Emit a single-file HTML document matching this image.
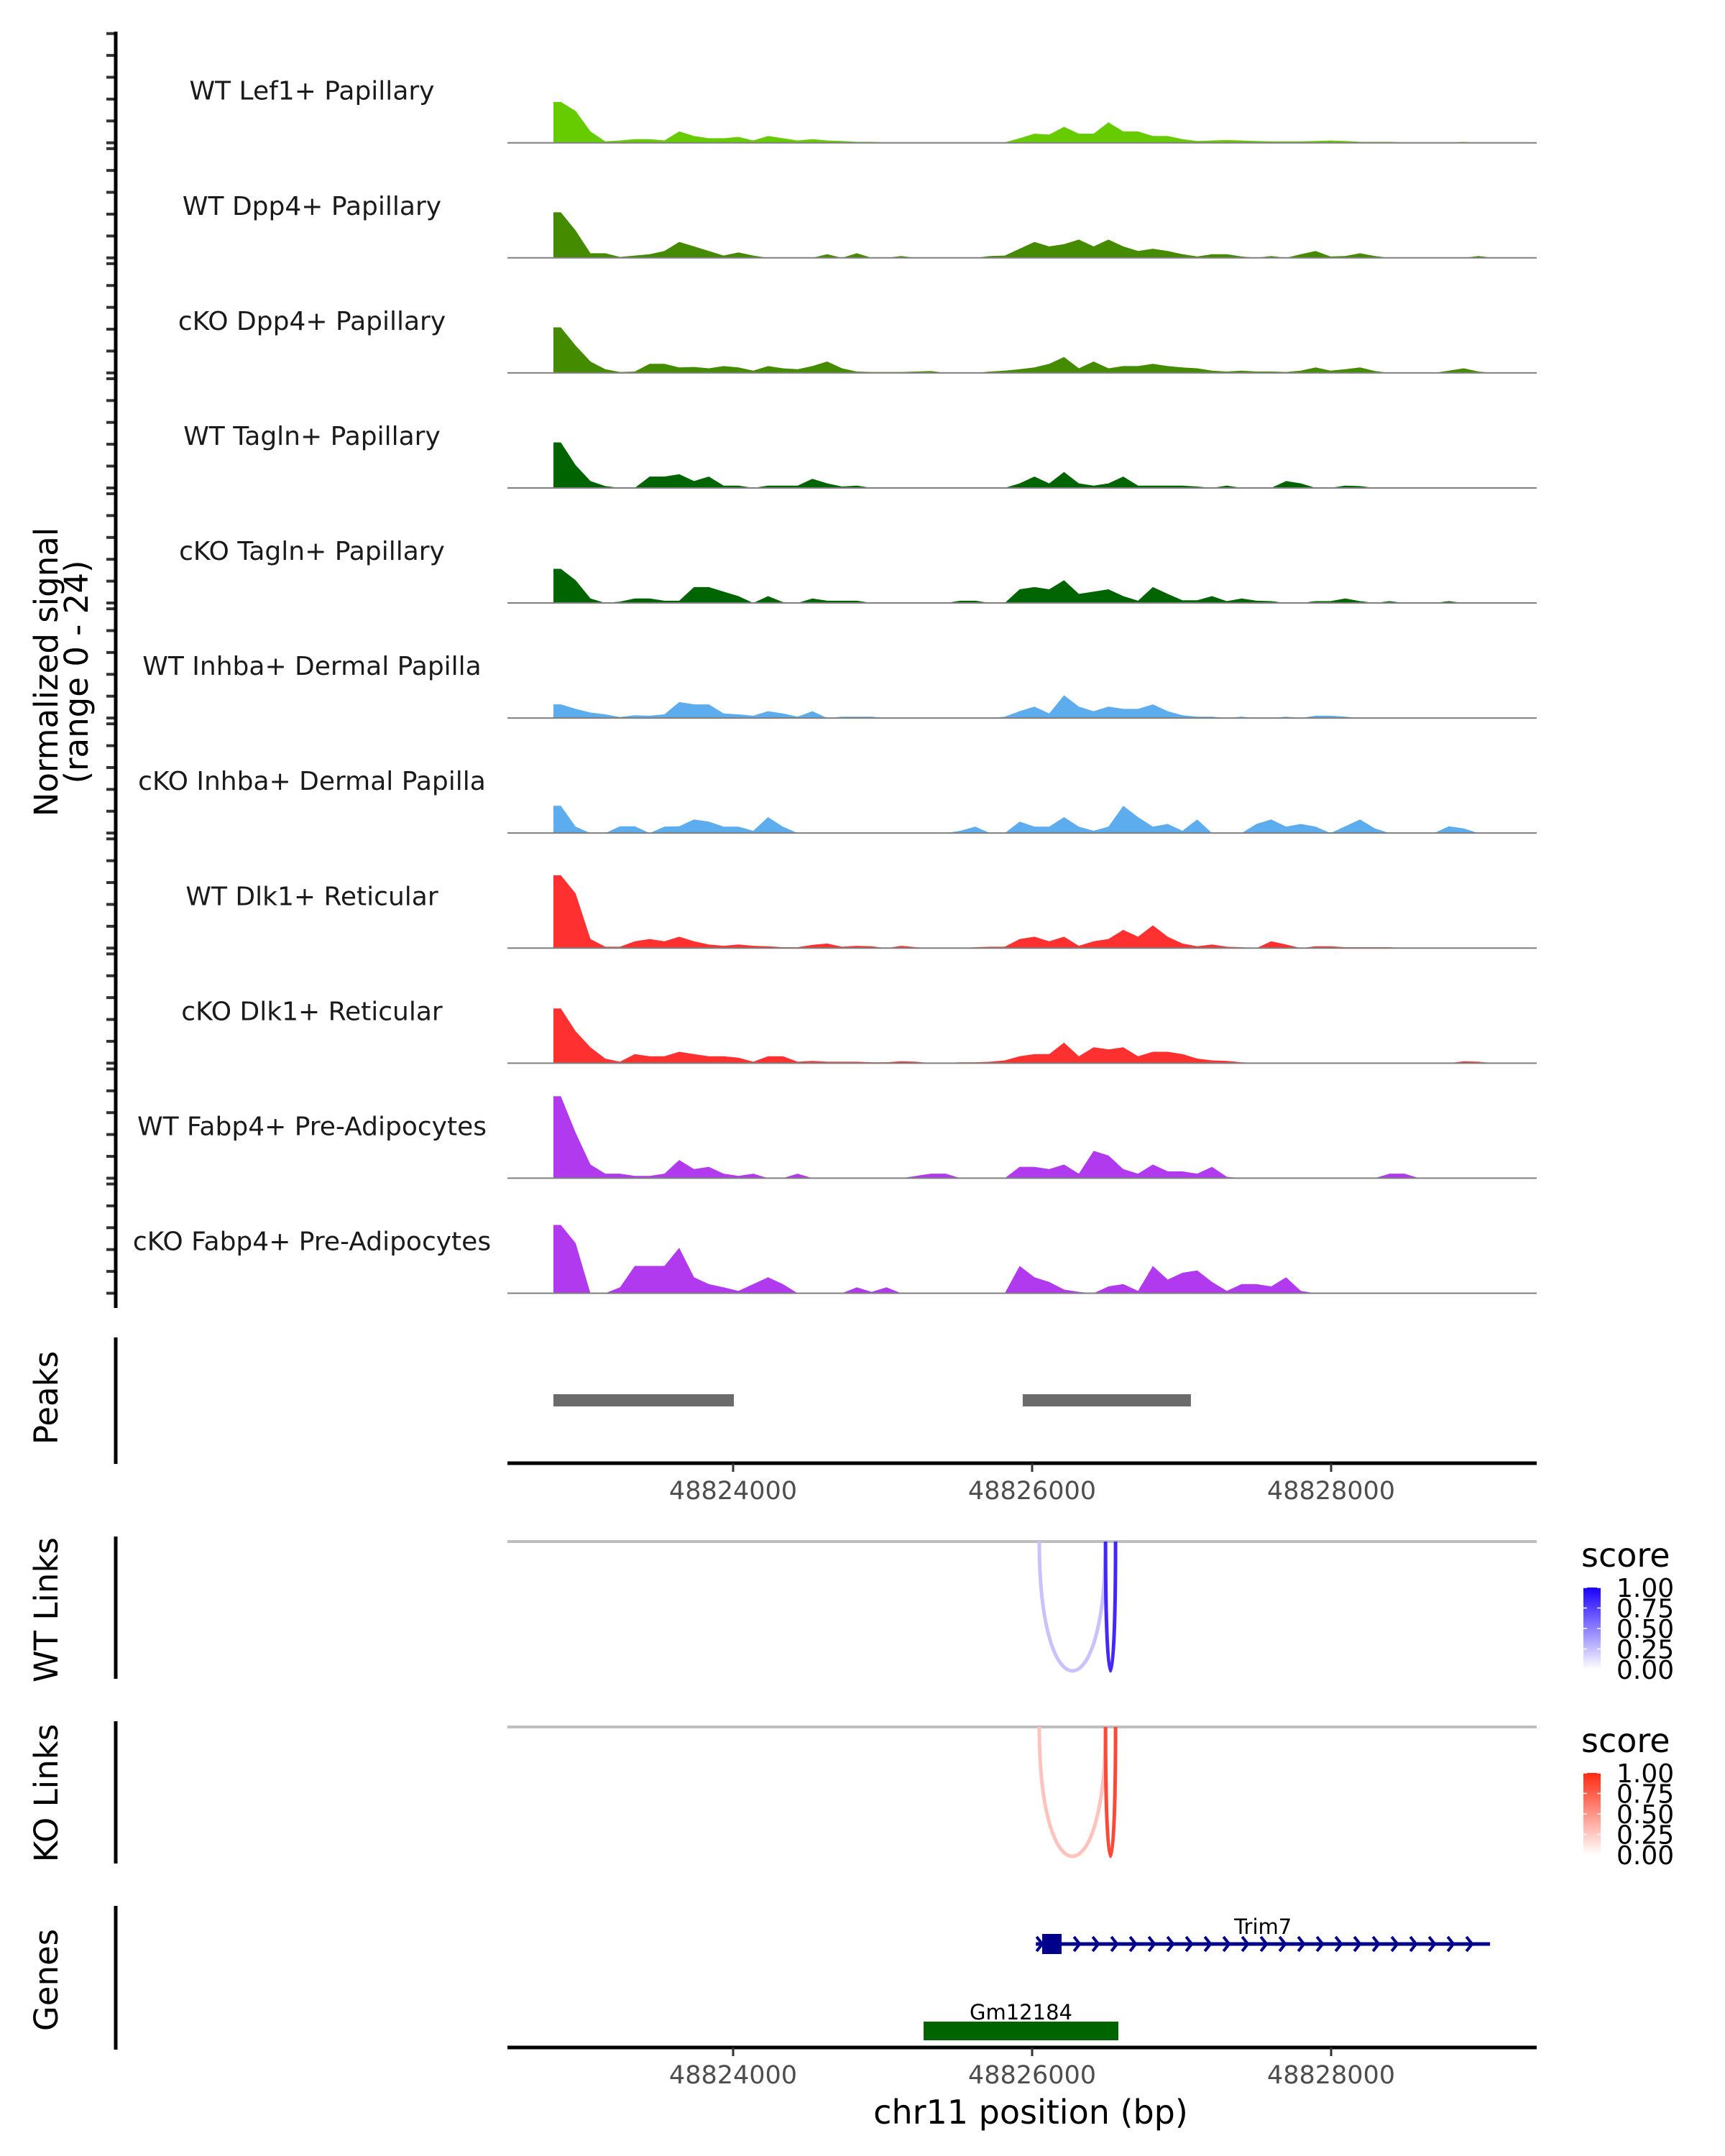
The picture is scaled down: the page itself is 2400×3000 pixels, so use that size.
<!DOCTYPE html>
<html><head><meta charset="utf-8">
<style>
html,body{margin:0;padding:0;background:#fff;}
svg{display:block;font-family:"DejaVu Sans","Liberation Sans",sans-serif;}
</style></head>
<body>
<svg id="chart" width="2400" height="3000" viewBox="0 0 2400 3000" xmlns="http://www.w3.org/2000/svg"></svg>
<script>
// ---- data ----
const trackNames = ["WT Lef1+ Papillary","WT Dpp4+ Papillary","cKO Dpp4+ Papillary","WT Tagln+ Papillary","cKO Tagln+ Papillary","WT Inhba+ Dermal Papilla","cKO Inhba+ Dermal Papilla","WT Dlk1+ Reticular","cKO Dlk1+ Reticular","WT Fabp4+ Pre-Adipocytes","cKO Fabp4+ Pre-Adipocytes"];
const trackColors = ["#66CC00","#458B00","#458B00","#006400","#006400","#5CACEE","#5CACEE","#FF3030","#FF3030","#B23AEE","#B23AEE"];
const binStart = 48822798;
const binSize = 99;
const sigLef1WT = [9,7,2.5,0.3,0.5,0.8,0.8,0.5,2.5,1.5,1,1,1.3,0.5,1.5,1,0.5,0.8,0.5,0.4,0.2,0.2,0.1,0.1,0.1,0.1,0.1,0.1,0.1,0.1,0.1,1,2,1.8,3.5,2,2,4.5,2.5,2.5,1.5,1.5,0.8,0.4,0.5,0.6,0.5,0.4,0.3,0.3,0.3,0.4,0.5,0.4,0.2,0.2,0.2,0.1,0.1,0.1,0.1,0.2,0,0];
const sigDpp4WT = [10,6,1,1,0.2,0.5,0.8,1.5,3.5,2.5,1.5,0.5,1.2,0.5,0,0,0,0,0.8,0,1,0,0,0.4,0,0,0,0,0,0.4,0.5,2,3.5,2.5,3,4,2.5,4,2.5,1.5,2,1.5,0.8,0.3,0.8,0.8,0.3,0,0.4,0,0.8,1.5,0.3,0.4,1,0.4,0,0,0,0,0,0,0.4,0];
const sigDpp4KO = [10,6,2.5,0.8,0.2,0.3,2,2,1.2,1.3,1,1.5,1.2,0.5,1.5,1,0.8,1.5,2.5,1,0.3,0.2,0.2,0.2,0.3,0.4,0,0,0,0.3,0.5,0.8,1.2,2,3.5,1,2.5,1,1.5,1.5,2,1.5,1.2,1,0.5,0.3,0.5,0.3,0.3,0.2,0.5,1.2,0.5,0.8,1.2,0.4,0,0,0,0,0.5,1,0.3,0];
const sigTaglnWT = [10,5,1.5,0.4,0,0,2.5,2.5,3,1.5,2.5,0.5,0.5,0,0.5,0.5,0.5,2,1,0.3,0.5,0,0,0,0,0,0,0,0,0,0,1,2.5,1,3.5,1,0.5,1,2.5,0.5,0.5,0.5,0.5,0.3,0,0.5,0,0,0,1.5,1,0,0,0.5,0.4,0,0,0,0,0,0,0,0,0];
const sigTaglnKO = [7.5,5,1,0,0.3,1,1,0.5,0.5,3.5,3.5,2.5,1.5,0,1.5,0.2,0,1,0.5,0.5,0.5,0,0,0,0,0,0,0.5,0.5,0,0,3,3.5,3,5,2,2.5,3,1.5,0.5,3.5,2,0.6,0.6,1.5,0.4,1,0.5,0.4,0,0,0.4,0.4,1,0.4,0,0.4,0,0,0,0.4,0,0,0];
const sigInhbaWT = [3,2,1.2,0.8,0.2,0.6,0.5,0.8,3.5,3,3,1,0.8,0.5,1.5,1,0.3,1.5,0,0.3,0.3,0.3,0,0,0,0,0,0,0,0,0.3,1.5,2.5,1,5,2.5,1.5,2.5,2,2,3,1.5,0.6,0.3,0.3,0,0.3,0,0,0.3,0,0.5,0.5,0.3,0,0,0,0,0,0,0,0,0,0];
const sigInhbaKO = [6,1.4,0,0,1.5,1.5,0,1.4,1.5,3,2.5,1.4,1.4,0.5,3.5,1.4,0,0,0,0,0,0,0,0,0,0,0,0.5,1.4,0,0,2.5,1.4,1.4,3.5,1.4,0.5,1.4,6,3.5,1.4,2,0.5,3,0,0,0,2,3,1.4,2,1.4,0,1.5,3,1,0,0,0,0,1.5,1,0,0];
const sigDlk1WT = [16,12,2,0.3,0.3,1.5,2,1.5,2.5,1.5,0.8,0.5,0.8,0.5,0.4,0.2,0.2,0.7,1,0.3,0.5,0.4,0,0.5,0.2,0,0,0,0.2,0.3,0.3,2,2.5,1.5,2.5,0.5,1.5,2,4,2.5,5,2.5,1,0.4,0.8,0.3,0.2,0,1.5,0.8,0,0.4,0.4,0.2,0.2,0.2,0.2,0,0,0,0,0,0,0];
const sigDlk1KO = [12,7,3.5,1,0.3,2,1.5,1.5,2.5,2,1.5,1.5,1.2,0.3,1.5,1.5,0.3,0.5,0.3,0.3,0.3,0.2,0.2,0.4,0.3,0,0,0.2,0.2,0.3,0.6,1.5,2,2,4.5,1.5,3.5,3,3.5,1.5,2.5,2.5,2,1,0.6,0.5,0.2,0,0,0,0,0,0,0,0,0,0,0,0,0,0,0.4,0.3,0];
const sigFabp4WT = [18,10,3,1,1,0.5,0.5,1,4,2,2.5,1,0.5,1,0,0,1,0,0,0,0,0,0,0,0.5,1,1,0,0,0,0,2.5,2.5,2,3,1,6,5,2,1,3,1.5,1.5,1,2.5,0.3,0,0,0,0,0,0,0,0,0,0,1,1,0,0,0,0,0,0];
const sigFabp4KO = [15,11,0,0,1.3,6,6,6,10,3.5,2,1.3,0.5,2,3.5,2,0,0,0,0,1.3,0.3,1.3,0,0,0,0,0,0,0,0,6,3.5,2.5,0.8,0.3,0,1.5,2,0.5,6,3,4.5,5,2.5,0.5,2,2,1.5,3.5,0.5,0,0,0,0,0,0,0,0,0,0,0,0,0];
const signals = [sigLef1WT,sigDpp4WT,sigDpp4KO,sigTaglnWT,sigTaglnKO,sigInhbaWT,sigInhbaKO,sigDlk1WT,sigDlk1KO,sigFabp4WT,sigFabp4KO];
const xTicks = [48824000,48826000,48828000];
const xTickLabels = ["48824000","48826000","48828000"];
const peakStart = [48822798,48825937];
const peakEnd = [48824005,48827062];
const wtLinkStart = [48826048,48826491];
const wtLinkEnd = [48826491,48826558];
const wtLinkScore = [0.25,0.88];
const koLinkStart = [48826048,48826491];
const koLinkEnd = [48826491,48826558];
const koLinkScore = [0.28,0.85];
const legendTicks = [1.00,0.75,0.50,0.25,0.00];
const legendLabels = ["1.00","0.75","0.50","0.25","0.00"];
const geneNames = ["Trim7","Gm12184"];
const geneStart = [48826025,48825274];
const geneEnd = [48829063,48826577];
const exonStart = [48826067,48825274];
const exonEnd = [48826197,48826577];

// ---- scales ----
const NS="http://www.w3.org/2000/svg";
const svg=document.getElementById('chart');
const plotL=706, plotR=2138;
function xs(bp){return 1020+(bp-48824000)*0.208;}
const trackBase0=198.7, trackPitch=160.08, pxPerUnit=152/24;
function ys(i,v){return trackBase0+i*trackPitch - v*pxPerUnit;}
function mk(tag,attrs,parent){const e=document.createElementNS(NS,tag);for(const k in attrs)e.setAttribute(k,attrs[k]);(parent||svg).appendChild(e);return e;}
function txt(s,attrs,parent){const e=mk('text',attrs,parent);e.textContent=s;return e;}

// ---- coverage tracks ----
const covG=mk('g',{});


for(let i=0;i<signals.length;i++){
  const base=ys(i,0);
  const g=mk('g',{},covG);
  
  
  let pts=[];
  const arr=signals[i];
  const xStart=xs(binStart);
  pts.push(xStart.toFixed(1)+','+base.toFixed(1));
  pts.push(xStart.toFixed(1)+','+ys(i,arr[0]).toFixed(1));
  for(let b=0;b<arr.length;b++){
    const xc=xs(binStart+(b+0.5)*binSize);
    const y=ys(i,arr[b]);
    if(arr[b]===0 && b>0 && arr[b-1]===0){pts.push(xc.toFixed(1)+','+base.toFixed(1));continue;}
    pts.push(xc.toFixed(1)+','+y.toFixed(1));
  }
  pts.push(xs(binStart+arr.length*binSize).toFixed(1)+','+base.toFixed(1));
  const p=mk('polygon',{points:pts.join(' '),fill:trackColors[i]},g);
  
  
  const bl=mk('line',{x1:plotL,x2:plotR,y1:base,y2:base,stroke:'#7f7f7f','stroke-width':2},g);
  
  
  const t=txt(trackNames[i],{x:434,y:base-60,'text-anchor':'middle','font-size':36,fill:'#1a1a1a'},g);
  
  
  for(let k=0;k<=5;k++){
    const ty=base-k*30.4;
    const tk=mk('line',{x1:148,x2:161,y1:ty,y2:ty,stroke:'#333','stroke-width':4},g);
    
    
  }
}
const yAxis=mk('line',{x1:161,x2:161,y1:44,y2:1820,stroke:'#000','stroke-width':5});


const yt=mk('text',{transform:'translate(80,935) rotate(-90)','text-anchor':'middle','font-size':45,fill:'#000'});


const ts1=mk('tspan',{x:0,dy:0},yt);ts1.textContent='Normalized signal';
const ts2=mk('tspan',{x:0,dy:42},yt);ts2.textContent='(range 0 - 24)';

// ---- panel axes & labels ----
function panelAxis(name,y1,y2,label,cy){
  const l=mk('line',{x1:161,x2:161,y1:y1,y2:y2,stroke:'#000','stroke-width':5});
  
  
  const t=txt(label,{transform:'translate(80,'+cy+') rotate(-90)','text-anchor':'middle','font-size':45,fill:'#000'});
  
  
}
panelAxis('peaks',1861,2037,'Peaks',1945);
panelAxis('wt-links',2138,2336,'WT Links',2240);
panelAxis('ko-links',2395,2593,'KO Links',2495);
panelAxis('genes',2652,2852,'Genes',2755);

// ---- peaks ----
for(let i=0;i<peakStart.length;i++){
  const r=mk('rect',{x:xs(peakStart[i]),y:1940,width:xs(peakEnd[i])-xs(peakStart[i]),height:17,fill:'#6b6b6b'});
  
  
}
function xAxis(y,name){
  const l=mk('line',{x1:plotL,x2:plotR,y1:y,y2:y,stroke:'#000','stroke-width':5});
  
  
  for(let i=0;i<xTicks.length;i++){
    const x=xs(xTicks[i]);
    const tk=mk('line',{x1:x,x2:x,y1:y,y2:y+12,stroke:'#333','stroke-width':3});
    
    
    const t=txt(xTickLabels[i],{x:x,y:y+50,'text-anchor':'middle','font-size':35,fill:'#4d4d4d'});
    
    
  }
}
xAxis(2036,'peaks-x-axis');

// ---- links ----
function mix(c,s){const r=Math.round(255+(c[0]-255)*s),g=Math.round(255+(c[1]-255)*s),b=Math.round(255+(c[2]-255)*s);return 'rgb('+r+','+g+','+b+')';}
function links(y0,starts,ends,scores,col,name){
  const gl=mk('line',{x1:plotL,x2:plotR,y1:y0,y2:y0,stroke:'#bebebe','stroke-width':4});
  
  
  const depth=180;
  for(let i=0;i<starts.length;i++){
    const x1=xs(starts[i]),x2=xs(ends[i]);
    const d='M'+x1+','+y0+' C'+x1+','+(y0+depth*1.333)+' '+x2+','+(y0+depth*1.333)+' '+x2+','+y0;
    const p=mk('path',{d:d,fill:'none',stroke:mix(col,scores[i]),'stroke-width':5});
    
    
  }
}
links(2145,wtLinkStart,wtLinkEnd,wtLinkScore,[40,10,255],'wt-link');
links(2403,koLinkStart,koLinkEnd,koLinkScore,[255,40,20],'ko-link');

// ---- legends ----
const defs=mk('defs',{});
function grad(id,col){const g=mk('linearGradient',{id:id,x1:0,y1:1,x2:0,y2:0},defs);mk('stop',{offset:0,'stop-color':'#ffffff'},g);mk('stop',{offset:1,'stop-color':col},g);}
grad('gb','#1a00ff');grad('gr','#ff2a10');
function legend(top,gid,name){
  const g=mk('g',{});
  
  
  txt('score',{x:2200,y:top,'font-size':46,fill:'#000'},g);
  const by0=top+29, bh=114;
  mk('rect',{x:2203,y:by0,width:24,height:bh,fill:'url(#'+gid+')'},g);
  for(let i=0;i<legendTicks.length;i++){
    const y=by0+bh*(1-legendTicks[i]);
    mk('line',{x1:2203,x2:2208,y1:y,y2:y,stroke:'#fff','stroke-width':1.5},g);
    mk('line',{x1:2222,x2:2227,y1:y,y2:y,stroke:'#fff','stroke-width':1.5},g);
    txt(legendLabels[i],{x:2249,y:y+13,'font-size':36,fill:'#000'},g);
  }
}
legend(2180,'gb','wt-score-legend');
legend(2438,'gr','ko-score-legend');

// ---- genes ----
const gy=[2705,2826];
const gcol=['#00008B','#006400'];
for(let i=0;i<geneNames.length;i++){
  const g=mk('g',{});
  
  
  const x1=xs(geneStart[i]),x2=xs(geneEnd[i]);
  mk('line',{x1:x1,x2:x2,y1:gy[i],y2:gy[i],stroke:gcol[i],'stroke-width':5},g);
  if(i===0){
    for(let x=x1+6;x<=x2-2;x+=26){
      mk('polyline',{points:(x-5)+','+(gy[i]-10)+' '+(x+3)+','+gy[i]+' '+(x-5)+','+(gy[i]+10),fill:'none',stroke:gcol[i],'stroke-width':4},g);
    }
    mk('rect',{x:xs(exonStart[i]),y:gy[i]-14,width:xs(exonEnd[i])-xs(exonStart[i]),height:28,fill:gcol[i]},g);
    txt(geneNames[i],{x:(x1+x2)/2,y:gy[i]-14,'text-anchor':'middle','font-size':29,fill:'#000'},g);
  } else {
    mk('rect',{x:xs(exonStart[i]),y:gy[i]-13,width:xs(exonEnd[i])-xs(exonStart[i]),height:26,fill:gcol[i]},g);
    txt(geneNames[i],{x:(x1+x2)/2,y:gy[i]-16,'text-anchor':'middle','font-size':29,fill:'#000'},g);
  }
}
xAxis(2849,'genes-x-axis');
const xt=txt('chr11 position (bp)',{x:1434,y:2955,'text-anchor':'middle','font-size':46,fill:'#000'});


</script>
</body></html>
